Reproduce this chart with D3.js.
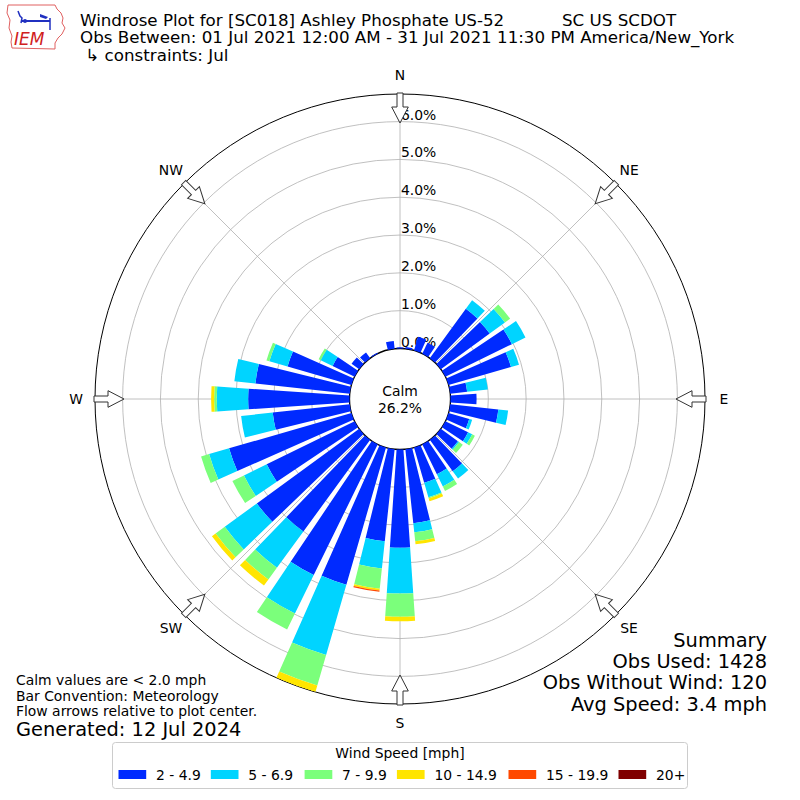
<!DOCTYPE html>
<html>
<head>
<meta charset="utf-8">
<script src="https://cdn.jsdelivr.net/npm/d3@7"></script>
<style>
  body { margin: 0; background: #fff; }
  text { font-family: "DejaVu Sans", sans-serif; }
</style>
</head>
<body>
<div id="chart"></div>
<script>
// directions in degrees (meteorological, where wind comes from)
var directions = [0, 10, 20, 30, 40, 50, 60, 70, 80, 90, 100, 110,
                  120, 130, 140, 150, 160, 170, 180, 190, 200, 210, 220, 230,
                  240, 250, 260, 270, 280, 290, 300, 310, 320, 330, 340, 350];

var speedLabels = ["2 - 4.9", "5 - 6.9", "7 - 9.9", "10 - 14.9", "15 - 19.9", "20+"];
var speedColors = ["#002aff", "#00d4ff", "#7bff7b", "#ffe500", "#ff4900", "#800000"];

// percent of obs per direction, one array per speed bin
var bin2to5 = [0.03, 0.05, 0.38, 0.32, 1.62, 1.60, 1.96, 1.72, 0.45, 0.69, 1.28, 0.57,
               0.67, 0.56, 1.03, 0.88, 0.97, 1.97, 2.60, 2.45, 3.78, 3.85, 3.00, 3.35,
               2.59, 3.37, 2.05, 2.68, 2.51, 1.76, 0.65, 0.25, 0.19, 0.03, 0.00, 0.21];
var bin5to7 = [0, 0, 0, 0, 0.28, 0.50, 0.40, 0.22, 0.55, 0, 0.26, 0.08,
               0.12, 0.04, 0.24, 0.36, 0.40, 0.24, 1.21, 0.72, 1.93, 1.13, 1.19, 1.05,
               0.67, 0.55, 0.84, 0.83, 0.56, 0.50, 0.35, 0, 0, 0, 0, 0];
var bin7to10 = [0, 0, 0, 0, 0, 0.17, 0, 0, 0, 0, 0, 0,
                0.08, 0.12, 0, 0.13, 0.03, 0.24, 0.61, 0.54, 0.84, 0.47, 0.38, 0.30,
                0.34, 0.22, 0, 0.07, 0, 0.08, 0.06, 0, 0, 0, 0, 0];
var bin10to15 = [0, 0, 0, 0, 0, 0, 0, 0, 0, 0, 0, 0,
                 0, 0, 0, 0, 0.08, 0.08, 0.12, 0.05, 0.18, 0, 0.20, 0.12,
                 0, 0, 0, 0.08, 0, 0, 0, 0, 0, 0, 0, 0];
var bin15to20 = [0, 0, 0, 0, 0, 0, 0, 0, 0, 0, 0, 0,
                 0, 0, 0, 0, 0, 0, 0, 0.03, 0, 0, 0, 0,
                 0, 0, 0, 0, 0, 0, 0, 0, 0, 0, 0, 0];
var bin20plus = [0, 0, 0, 0, 0, 0, 0, 0, 0, 0, 0, 0,
                 0, 0, 0, 0, 0, 0, 0, 0, 0, 0, 0, 0,
                 0, 0, 0, 0, 0, 0, 0, 0, 0, 0, 0, 0];

var ringTicks = [0, 1, 2, 3, 4, 5, 6];
var compass = [["N", 0], ["NE", 45], ["E", 90], ["SE", 135], ["S", 180], ["SW", 225], ["W", 270], ["NW", 315]];

var calmPct = "26.2%";
var titleLines = ["Windrose Plot for [SC018] Ashley Phosphate US-52",
                  "Obs Between: 01 Jul 2021 12:00 AM - 31 Jul 2021 11:30 PM America/New_York",
                  " \u21b3 constraints: Jul"];
var network = "SC US SCDOT";
var summaryLines = ["Summary", "Obs Used: 1428", "Obs Without Wind: 120", "Avg Speed: 3.4 mph"];
var noteLines = ["Calm values are < 2.0 mph", "Bar Convention: Meteorology", "Flow arrows relative to plot center."];
var generated = "Generated: 12 Jul 2024";

var W = 800, H = 800;
var cx = 400, cy = 399;
var rad = Math.PI / 180;
var fs10 = "13.9px", fs12 = "16.7px", fs14 = "19.4px";

var svg = d3.select("#chart").append("svg")
    .attr("width", W)
    .attr("height", H);

var r = d3.scaleLinear().domain([0, 6.73]).range([50.5, 305]);

// build stacked segments
var series = [bin2to5, bin5to7, bin7to10, bin10to15, bin15to20, bin20plus];
var segs = [];
directions.forEach(function(d, i) {
    var base = 0;
    series.forEach(function(s, j) {
        if (s[i] > 0) {
            segs.push({dir: d, lo: base, hi: base + s[i], bin: j});
        }
        base += s[i];
    });
});

svg.append("clipPath").attr("id", "polarClip")
    .append("circle").attr("cx", cx).attr("cy", cy).attr("r", r(6.73));

var plot = svg.append("g").attr("transform", "translate(" + cx + "," + cy + ")");

var arc = d3.arc()
    .innerRadius(function(d) { return r(d.lo); })
    .outerRadius(function(d) { return r(d.hi); })
    .startAngle(function(d) { return (d.dir - 3.9) * rad; })
    .endAngle(function(d) { return (d.dir + 3.9) * rad; });

svg.append("g")
    .attr("clip-path", "url(#polarClip)")
    .append("g")
    .attr("transform", "translate(" + cx + "," + cy + ")")
    .selectAll("path")
    .data(segs)
    .enter()
    .append("path")
    .attr("d", arc)
    .attr("fill", function(d) { return speedColors[d.bin]; });

// grid rings and spokes
plot.selectAll("circle.ring")
    .data(ringTicks.slice(1))
    .enter()
    .append("circle")
    .attr("class", "ring")
    .attr("r", function(d) { return r(d); })
    .attr("fill", "none")
    .attr("stroke", "#b0b0b0")
    .attr("stroke-width", 0.8);

plot.selectAll("line.spoke")
    .data(compass)
    .enter()
    .append("line")
    .attr("x1", 0).attr("y1", 0)
    .attr("x2", function(d) { return r(6.73) * Math.sin(d[1] * rad); })
    .attr("y2", function(d) { return -r(6.73) * Math.cos(d[1] * rad); })
    .attr("stroke", "#b0b0b0")
    .attr("stroke-width", 0.8);

// calm circle
plot.append("circle")
    .attr("r", r(0))
    .attr("fill", "white")
    .attr("stroke", "black")
    .attr("stroke-width", 1.3);

plot.append("text")
    .text("Calm")
    .attr("x", 0).attr("y", -3)
    .attr("text-anchor", "middle")
    .attr("font-size", fs10);
plot.append("text")
    .text(calmPct)
    .attr("x", 0).attr("y", 13.5)
    .attr("text-anchor", "middle")
    .attr("font-size", fs10);

// ring labels
plot.selectAll("text.rlabel")
    .data(ringTicks)
    .enter()
    .append("text")
    .text(function(d) { return d.toFixed(1) + "%"; })
    .attr("x", 1)
    .attr("y", function(d) { return -r(d) - 2; })
    .attr("font-size", fs10);

// outer frame
plot.append("circle")
    .attr("r", r(6.73))
    .attr("fill", "none")
    .attr("stroke", "black")
    .attr("stroke-width", 1);

// flow arrows pointing to centre
var arrowPts = [[-3, -306], [3, -306], [3, -292], [8.3, -292], [0, -276], [-8.3, -292], [-3, -292]];
plot.selectAll("path.arrow")
    .data(compass)
    .enter()
    .append("path")
    .attr("d", d3.line()(arrowPts) + "Z")
    .attr("transform", function(d) { return "rotate(" + d[1] + ")"; })
    .attr("fill", "white")
    .attr("stroke", "#333")
    .attr("stroke-width", 1);

plot.selectAll("text.compass")
    .data(compass)
    .enter()
    .append("text")
    .text(function(d) { return d[0]; })
    .attr("x", function(d) { return 324 * Math.sin(d[1] * rad); })
    .attr("y", function(d) { return -324 * Math.cos(d[1] * rad) + 5; })
    .attr("text-anchor", "middle")
    .attr("font-size", fs10);

// title
svg.selectAll("text.title")
    .data(titleLines)
    .enter()
    .append("text")
    .text(function(d) { return d; })
    .attr("x", 80)
    .attr("y", function(d, i) { return 25.5 + i * 17.6; })
    .attr("font-size", fs12)
    .style("white-space", "pre");
svg.append("text")
    .text(network)
    .attr("x", 562).attr("y", 25.5)
    .attr("font-size", fs12);

// summary block
svg.selectAll("text.summary")
    .data(summaryLines)
    .enter()
    .append("text")
    .text(function(d) { return d; })
    .attr("x", 767)
    .attr("y", function(d, i) { return 646.5 + i * 21.4; })
    .attr("text-anchor", "end")
    .attr("font-size", fs14);

svg.selectAll("text.note")
    .data(noteLines)
    .enter()
    .append("text")
    .text(function(d) { return d; })
    .attr("x", 16)
    .attr("y", function(d, i) { return 685 + i * 15.6; })
    .attr("font-size", fs10);
svg.append("text")
    .text(generated)
    .attr("x", 16).attr("y", 735.5)
    .attr("font-size", fs14);

// legend
var leg = svg.append("g");
leg.append("rect")
    .attr("x", 112.5).attr("y", 742.5)
    .attr("width", 575).attr("height", 46)
    .attr("rx", 3)
    .attr("fill", "white")
    .attr("stroke", "#cccccc");
leg.append("text")
    .text("Wind Speed [mph]")
    .attr("x", 400).attr("y", 757.5)
    .attr("text-anchor", "middle")
    .attr("font-size", fs10);
var legX = [118.5, 210.8, 304.6, 396.9, 508.5, 618.5];
var items = leg.selectAll("g.item")
    .data(speedLabels)
    .enter()
    .append("g")
    .attr("transform", function(d, i) { return "translate(" + legX[i] + ",0)"; });
items.append("rect")
    .attr("x", 0).attr("y", 770)
    .attr("width", 27.7).attr("height", 9)
    .attr("fill", function(d, i) { return speedColors[i]; });
items.append("text")
    .text(function(d) { return d; })
    .attr("x", 37.5).attr("y", 779.5)
    .attr("font-size", fs10);

// IEM logo (rough)
var logo = svg.append("g");
logo.append("path")
    .attr("d", "M8,5 L55,5 L57,9 L61,13 L63,18 L62,23 L65,28 L62,34 L58,38 L55,43 L55,49 L12,48 L11,42 L12,36 L9,28 L10,20 L7,13 Z")
    .attr("fill", "white")
    .attr("stroke", "#e06060")
    .attr("stroke-width", 1);
logo.append("line").attr("x1", 21).attr("y1", 21).attr("x2", 50).attr("y2", 21)
    .attr("stroke", "#2030c0").attr("stroke-width", 2);
logo.append("path").attr("d", "M18,11 L20,16 L22,18 L21,23")
    .attr("fill", "none").attr("stroke", "#2030c0").attr("stroke-width", 1.5);
logo.append("circle").attr("cx", 25).attr("cy", 21).attr("r", 2).attr("fill", "#2030c0");
logo.append("path").attr("d", "M40,14 L48,17 L46,19 L40,17 Z").attr("fill", "#2030c0");
logo.append("line").attr("x1", 50).attr("y1", 18).attr("x2", 50).attr("y2", 30)
    .attr("stroke", "#2030c0").attr("stroke-width", 1.5);
logo.append("text")
    .text("IEM")
    .attr("x", 14).attr("y", 45)
    .attr("font-family", "Liberation Serif, serif")
    .attr("font-style", "italic")
    .attr("font-size", "17px")
    .attr("fill", "#d02020");
</script>
</body>
</html>
